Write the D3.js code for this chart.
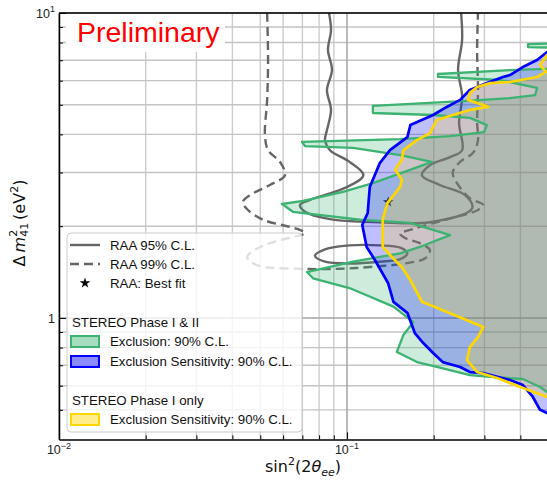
<!DOCTYPE html>
<html>
<head>
<meta charset="utf-8">
<script src="https://cdn.jsdelivr.net/npm/d3@7"></script>
<style>
  body { margin: 0; background: #fff; }
  svg { display: block; }
</style>
</head>
<body>
<div id="chart"></div>
<script>
//Datos: [sin²(2θee), Δm²41]
const greenExcl = [
    [0.6, 7.97], [0.425, 7.91], [0.425, 7.73], [0.6, 7.68],
    [0.6, 6.60], [0.368, 6.50], [0.207, 6.31], [0.207, 6.17], [0.340, 6.03], [0.457, 5.68],
    [0.450, 5.38], [0.368, 5.26], [0.261, 5.15], [0.123, 4.96], [0.123, 4.70], [0.199, 4.63],
    [0.267, 4.53], [0.306, 4.29], [0.299, 4.07], [0.228, 3.95], [0.153, 3.86], [0.0698, 3.78],
    [0.0715, 3.66], [0.105, 3.61], [0.153, 3.42], [0.197, 3.25], [0.172, 3.10], [0.123, 2.77],
    [0.0969, 2.59], [0.0704, 2.42], [0.0595, 2.365], [0.0649, 2.23], [0.111, 2.10], [0.1655, 2.05],
    [0.228, 1.87], [0.179, 1.71], [0.153, 1.63], [0.105, 1.53], [0.0726, 1.415], [0.0762, 1.35],
    [0.102, 1.254], [0.145, 1.09], [0.170, 0.970], [0.157, 0.880], [0.149, 0.774], [0.175, 0.717],
    [0.205, 0.691], [0.267, 0.650], [0.314, 0.641], [0.408, 0.631], [0.468, 0.594], [0.495, 0.572],
    [0.6, 0.572]
];

const blueSens = [
    [0.6, 7.45], [0.495, 7.45], [0.457, 7.01], [0.408, 6.65], [0.368, 6.26], [0.348, 6.17],
    [0.306, 5.89], [0.267, 5.59], [0.247, 5.19], [0.222, 4.92], [0.199, 4.63], [0.166, 4.29],
    [0.162, 3.92], [0.141, 3.55], [0.130, 3.22], [0.120, 2.69], [0.118, 2.21], [0.113, 2.02],
    [0.117, 1.71], [0.125, 1.55], [0.139, 1.30], [0.145, 1.13], [0.162, 1.04], [0.172, 0.893],
    [0.184, 0.828], [0.199, 0.768], [0.215, 0.717], [0.247, 0.691], [0.267, 0.665], [0.297, 0.660],
    [0.368, 0.626], [0.408, 0.603], [0.442, 0.551], [0.468, 0.500], [0.495, 0.488], [0.6, 0.488]
];

const yellowSens = [
    [0.6, 7.28], [0.495, 7.28], [0.468, 6.75], [0.491, 6.41], [0.457, 6.17], [0.368, 5.94],
    [0.314, 5.89], [0.283, 5.72], [0.267, 5.47], [0.263, 5.19], [0.297, 4.99], [0.309, 4.92],
    [0.267, 4.81], [0.233, 4.63], [0.205, 4.46], [0.199, 4.23], [0.194, 4.04], [0.175, 3.83],
    [0.157, 3.55], [0.155, 3.30], [0.149, 3.13], [0.147, 3.06], [0.155, 2.84], [0.153, 2.69],
    [0.138, 2.38], [0.133, 2.10], [0.133, 1.71], [0.143, 1.585], [0.155, 1.47], [0.166, 1.33],
    [0.182, 1.13], [0.205, 1.08], [0.297, 0.934], [0.285, 0.866], [0.267, 0.803], [0.261, 0.728],
    [0.283, 0.665], [0.332, 0.636], [0.408, 0.590], [0.495, 0.551], [0.6, 0.551]
];

const raa95 = [
    [0.0866, 10], [0.0880, 8.80], [0.0859, 7.56], [0.0887, 6.50], [0.0852, 5.59], [0.0880, 4.81],
    [0.0852, 4.13], [0.0839, 3.83], [0.0873, 3.55], [0.102, 3.25], [0.114, 2.94], [0.0984, 2.67],
    [0.0744, 2.44], [0.0687, 2.35], [0.0715, 2.23], [0.0873, 2.11], [0.130, 2.06], [0.194, 2.06],
    [0.272, 2.29], [0.257, 2.53], [0.210, 2.73], [0.182, 2.94], [0.194, 3.17], [0.228, 3.37],
    [0.251, 3.55], [0.245, 4.36], [0.251, 5.34], [0.243, 6.50], [0.251, 8.155], [0.249, 10]
];

const raa95Island = [
    [0.0774, 1.60], [0.0839, 1.68], [0.102, 1.73], [0.130, 1.73], [0.153, 1.70],
    [0.162, 1.63], [0.153, 1.56], [0.130, 1.53], [0.102, 1.51], [0.0839, 1.53]
];

const raa99 = [
    [0.0528, 10], [0.0532, 7.01], [0.0528, 5.19], [0.0519, 3.98], [0.0532, 3.55], [0.0585, 3.25],
    [0.0609, 2.94], [0.0540, 2.73], [0.0461, 2.53], [0.0435, 2.40], [0.0453, 2.26], [0.0511, 2.10],
    [0.0671, 1.96], [0.0715, 1.90], [0.0585, 1.80], [0.0499, 1.71], [0.0450, 1.585], [0.0487, 1.49],
    [0.0687, 1.45], [0.0946, 1.45], [0.120, 1.47], [0.159, 1.51], [0.187, 1.57], [0.194, 1.67],
    [0.179, 1.76], [0.159, 1.83], [0.153, 1.89], [0.170, 1.96], [0.219, 2.10], [0.285, 2.26],
    [0.297, 2.35], [0.267, 2.47], [0.237, 2.84], [0.233, 3.01], [0.247, 3.25], [0.274, 3.48],
    [0.285, 3.83], [0.283, 4.36], [0.285, 5.59], [0.283, 7.56], [0.285, 10]
];

const raaBestFit = [0.139, 2.40];

//Ticks
const xMajor = [0.01, 0.1];
const xMinor = [0.02, 0.03, 0.04, 0.05, 0.06, 0.07, 0.08, 0.09, 0.2, 0.3, 0.4];
const yMajor = [1, 10];
const yMinor = [0.5, 0.6, 0.7, 0.8, 0.9, 2, 3, 4, 5, 6, 7, 8, 9];

//Colores
const COLOR_GREEN = '#3cb371',
    COLOR_BLUE = '#0000ff',
    COLOR_YELLOW = '#ffd700',
    COLOR_RAA = '#666666';

let width = 547, height = 480;

let svg = d3.select('#chart')
    .append('svg')
    .attr('width', width)
    .attr('height', height);

svg.append('rect').attr('width', width).attr('height', height).attr('fill', '#fff');

let x = d3.scaleLog().domain([0.01, 0.5]).range([59, 548.3]);
let y = d3.scaleLog().domain([0.4, 10]).range([439.4, 13]);

let x0 = x.range()[0], x1 = x.range()[1], y0 = y.range()[1], y1 = y.range()[0];

svg.append('clipPath').attr('id', 'plotclip')
    .append('rect')
    .attr('x', x0).attr('y', y0)
    .attr('width', x1 - x0).attr('height', y1 - y0);

// Grid
let grid = svg.append('g');
grid.selectAll('.vminor').data(xMinor).enter().append('line')
    .attr('x1', d => x(d)).attr('x2', d => x(d)).attr('y1', y0).attr('y2', y1)
    .attr('stroke', '#cccccc').attr('stroke-width', 1.4);
grid.selectAll('.hminor').data(yMinor).enter().append('line')
    .attr('x1', x0).attr('x2', x1).attr('y1', d => y(d)).attr('y2', d => y(d))
    .attr('stroke', '#c4c4c4').attr('stroke-width', 1.4);
grid.selectAll('.vmajor').data(xMajor).enter().append('line')
    .attr('x1', d => x(d)).attr('x2', d => x(d)).attr('y1', y0).attr('y2', y1)
    .attr('stroke', '#a4a4a4').attr('stroke-width', 1.5);
grid.selectAll('.hmajor').data(yMajor).enter().append('line')
    .attr('x1', x0).attr('x2', x1).attr('y1', d => y(d)).attr('y2', d => y(d))
    .attr('stroke', '#a4a4a4').attr('stroke-width', 1.5);

// Caja "Preliminary"
svg.append('rect')
    .attr('x', 66).attr('y', 14).attr('width', 159).attr('height', 38)
    .attr('fill', '#fff');

let plot = svg.append('g').attr('clip-path', 'url(#plotclip)');

let lineLin = d3.line().x(d => x(d[0])).y(d => y(d[1]));
let lineSmooth = d3.line().x(d => x(d[0])).y(d => y(d[1])).curve(d3.curveCatmullRom.alpha(0.5));
let lineClosed = d3.line().x(d => x(d[0])).y(d => y(d[1])).curve(d3.curveCatmullRomClosed.alpha(0.5));

// RAA (debajo de los rellenos)
plot.append('path').attr('d', lineSmooth(raa95))
    .attr('fill', 'none').attr('stroke', COLOR_RAA).attr('stroke-width', 2.4);
plot.append('path').attr('d', lineClosed(raa95Island))
    .attr('fill', 'none').attr('stroke', COLOR_RAA).attr('stroke-width', 2.4);
plot.append('path').attr('d', lineSmooth(raa99))
    .attr('fill', 'none').attr('stroke', COLOR_RAA).attr('stroke-width', 2.4)
    .attr('stroke-dasharray', '9,5');

// Best fit
plot.append('path')
    .attr('d', d3.symbol(d3.symbolStar).size(35)())
    .attr('transform', 'translate(' + x(raaBestFit[0]) + ',' + y(raaBestFit[1]) + ')')
    .attr('fill', '#111');

// Rellenos
plot.append('path').attr('d', lineLin(greenExcl) + 'Z')
    .attr('fill', COLOR_GREEN).attr('fill-opacity', 0.25).attr('stroke', 'none');
plot.append('path').attr('d', lineLin(blueSens) + 'Z')
    .attr('fill', COLOR_BLUE).attr('fill-opacity', 0.25).attr('stroke', 'none');
plot.append('path').attr('d', lineLin(yellowSens) + 'Z')
    .attr('fill', COLOR_YELLOW).attr('fill-opacity', 0.22).attr('stroke', 'none');

// Contornos
plot.append('path').attr('d', lineLin(greenExcl) + 'Z')
    .attr('fill', 'none').attr('stroke', COLOR_GREEN).attr('stroke-width', 2.3)
    .attr('stroke-linejoin', 'round');
plot.append('path').attr('d', lineLin(blueSens) + 'Z')
    .attr('fill', 'none').attr('stroke', COLOR_BLUE).attr('stroke-width', 2.7)
    .attr('stroke-linejoin', 'round');
plot.append('path').attr('d', lineLin(yellowSens) + 'Z')
    .attr('fill', 'none').attr('stroke', COLOR_YELLOW).attr('stroke-width', 2.7)
    .attr('stroke-linejoin', 'round');

// Ejes
let yAxisMaj = svg.append('g').attr('transform', 'translate(' + x0 + ',0)')
    .call(d3.axisLeft(y).tickValues(yMajor).tickSize(-7).tickSizeOuter(0).tickFormat(''));
let yAxisMin = svg.append('g').attr('transform', 'translate(' + x0 + ',0)')
    .call(d3.axisLeft(y).tickValues(yMinor).tickSize(-4).tickSizeOuter(0).tickFormat(''));
let xAxisMaj = svg.append('g').attr('transform', 'translate(0,' + y1 + ')')
    .call(d3.axisBottom(x).tickValues(xMajor).tickSize(-7).tickSizeOuter(0).tickFormat(''));
let xAxisMin = svg.append('g').attr('transform', 'translate(0,' + y1 + ')')
    .call(d3.axisBottom(x).tickValues(xMinor).tickSize(-4).tickSizeOuter(0).tickFormat(''));

[yAxisMaj, yAxisMin, xAxisMaj, xAxisMin].forEach(function(g) {
    g.select('.domain').attr('stroke', '#000').attr('stroke-width', 1.5);
    g.selectAll('.tick line').attr('stroke', '#000').attr('stroke-width', 1);
});
yAxisMin.select('.domain').remove();
xAxisMin.select('.domain').remove();

// Borde superior
svg.append('line')
    .attr('x1', x0).attr('x2', x1).attr('y1', y0).attr('y2', y0)
    .attr('stroke', '#000').attr('stroke-width', 1.5);

function powLabel(sel, d) {
    let e = Math.round(Math.log10(d));
    if (e === 0) { sel.text('1'); return; }
    sel.append('tspan').text('10');
    sel.append('tspan').attr('dy', -5.5).attr('font-size', 9).text(e < 0 ? '\u2212' + (-e) : e);
}

svg.selectAll('.ylab').data(yMajor).enter().append('text')
    .attr('x', 55).attr('y', d => y(d) + 4.5)
    .attr('text-anchor', 'end')
    .attr('font-family', 'Liberation Sans, Arial, sans-serif').attr('font-size', 12.5)
    .attr('fill', '#222')
    .each(function(d) { powLabel(d3.select(this), d); });

svg.selectAll('.xlab').data(xMajor).enter().append('text')
    .attr('x', d => x(d)).attr('y', 454)
    .attr('text-anchor', 'middle')
    .attr('font-family', 'Liberation Sans, Arial, sans-serif').attr('font-size', 12.5)
    .attr('fill', '#222')
    .each(function(d) { powLabel(d3.select(this), d); });

// Título de ejes
let xl = svg.append('text')
    .attr('x', 303).attr('y', 472)
    .attr('text-anchor', 'middle')
    .attr('font-family', 'DejaVu Sans').attr('font-size', 16).attr('fill', '#111');
xl.append('tspan').text('sin');
xl.append('tspan').attr('font-size', 11).attr('dy', -7).text('2');
xl.append('tspan').attr('dy', 7).text('(2');
xl.append('tspan').attr('font-style', 'italic').text('θ');
xl.append('tspan').attr('font-style', 'italic').attr('font-size', 11).attr('dy', 3.5).text('ee');
xl.append('tspan').attr('dy', -3.5).text(')');

let yl = svg.append('text')
    .attr('transform', 'translate(25,223) rotate(-90)')
    .attr('text-anchor', 'middle')
    .attr('font-family', 'DejaVu Sans').attr('font-size', 16).attr('fill', '#111');
yl.append('tspan').text('Δ');
yl.append('tspan').attr('font-style', 'italic').attr('dx', 3).text('m');
yl.append('tspan').attr('font-size', 11).attr('dy', -8).text('2');
yl.append('tspan').attr('font-size', 11).attr('dx', -7).attr('dy', 11).text('41');
yl.append('tspan').attr('dx', 3).attr('dy', -3).text('(eV');
yl.append('tspan').attr('font-size', 11).attr('dy', -7).text('2');
yl.append('tspan').attr('dy', 7).text(')');

// Preliminary
svg.append('text')
    .attr('x', 77).attr('y', 42)
    .attr('font-family', 'Liberation Sans, Arial, sans-serif').attr('font-size', 28.5)
    .attr('fill', '#ff0000')
    .text('Preliminary');

// Leyenda
let lg = svg.append('g').attr('font-family', 'Liberation Sans, Arial, sans-serif').attr('font-size', 13.3);
lg.append('rect')
    .attr('x', 67).attr('y', 233).attr('width', 235).attr('height', 199).attr('rx', 4)
    .attr('fill', '#fff').attr('fill-opacity', 0.8)
    .attr('stroke', '#cccccc').attr('stroke-width', 1);

lg.append('line').attr('x1', 70).attr('x2', 100).attr('y1', 245).attr('y2', 245)
    .attr('stroke', COLOR_RAA).attr('stroke-width', 2.4);
lg.append('line').attr('x1', 70).attr('x2', 100).attr('y1', 264).attr('y2', 264)
    .attr('stroke', COLOR_RAA).attr('stroke-width', 2.4).attr('stroke-dasharray', '9,5');
lg.append('path').attr('d', d3.symbol(d3.symbolStar).size(35)())
    .attr('transform', 'translate(85,283)').attr('fill', '#000');

lg.append('rect').attr('x', 71).attr('y', 336).attr('width', 28).attr('height', 11)
    .attr('fill', COLOR_GREEN).attr('fill-opacity', 0.45)
    .attr('stroke', COLOR_GREEN).attr('stroke-width', 2);
lg.append('rect').attr('x', 71).attr('y', 356).attr('width', 28).attr('height', 11)
    .attr('fill', COLOR_BLUE).attr('fill-opacity', 0.45)
    .attr('stroke', COLOR_BLUE).attr('stroke-width', 2);
lg.append('rect').attr('x', 71).attr('y', 414).attr('width', 28).attr('height', 11)
    .attr('fill', COLOR_YELLOW).attr('fill-opacity', 0.45)
    .attr('stroke', COLOR_YELLOW).attr('stroke-width', 2);

let legendTexts = [
    [110, 245, 'RAA 95% C.L.'],
    [110, 264, 'RAA 99% C.L.'],
    [110, 283, 'RAA: Best fit'],
    [72, 322, 'STEREO Phase I & II'],
    [110, 341, 'Exclusion: 90% C.L.'],
    [110, 361, 'Exclusion Sensitivity: 90% C.L.'],
    [72, 400, 'STEREO Phase I only'],
    [110, 419, 'Exclusion Sensitivity: 90% C.L.']
];
lg.selectAll('.ltxt').data(legendTexts).enter().append('text')
    .attr('x', d => d[0]).attr('y', d => d[1] + 4.7)
    .attr('fill', '#111')
    .text(d => d[2]);
</script>
</body>
</html>
